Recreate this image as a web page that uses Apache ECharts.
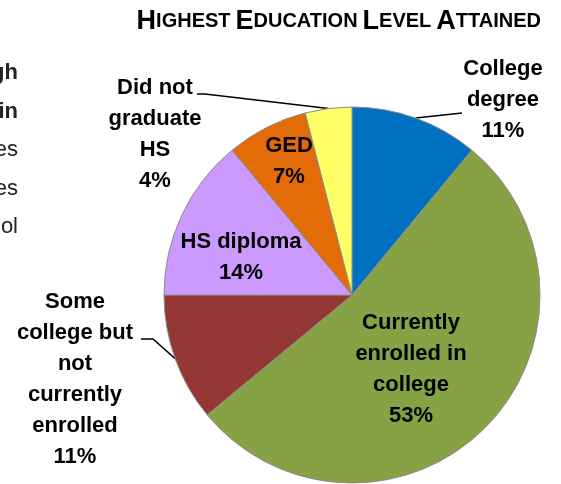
<!DOCTYPE html>
<html>
<head>
<meta charset="utf-8">
<script src="https://cdn.jsdelivr.net/npm/echarts@6/dist/echarts.min.js"></script>
<style>
  html,body{margin:0;padding:0;background:#fff;}
  #main{width:561px;height:484px;}
</style>
</head>
<body>
<div id="main"></div>
<script>
// slice data, clockwise from 12 o'clock
var names = ['College\ndegree', 'Currently\nenrolled in\ncollege', 'Some\ncollege but\nnot\ncurrently\nenrolled', 'HS diploma', 'GED', 'Did not\ngraduate\nHS'];
var values = [11, 53, 11, 14, 7, 4];
var colors = ['#0070C0', '#86A244', '#953735', '#CC99FF', '#E36C09', '#FFFF66'];
var outside = [true, false, true, false, false, true];
// label anchor points (centre of the text block)
var labelPos = [[503, 100], [411, 369], [75, 379], [241, 257], [289, 161], [155, 134]];
// where the leader line meets the label (after the slice edge point)
var leaderEnds = [[[462, 113]], null, [[153, 339], [141, 339]], null, null, [[205, 94], [197, 94]]];
// clipped words of the neighbouring text box on the left
var sideText = ['gh', 'in', 'es', 'es', 'ol'];
var sideBold = [true, true, false, false, false];

var font = '"Liberation Sans Narrow", "Liberation Sans", Arial, sans-serif';
var chart = echarts.init(document.getElementById('main'));

var seriesData = names.map(function (n, i) {
  return {
    name: n,
    value: values[i],
    itemStyle: { color: colors[i] },
    labelLine: { show: outside[i] }
  };
});

var side = sideText.map(function (t, i) {
  return {
    type: 'text',
    right: 543,
    top: 62 + i * 38.5,
    style: {
      text: t,
      fill: '#222',
      font: (sideBold[i] ? 'bold ' : '') + '22px ' + font,
      textAlign: 'right'
    }
  };
});

chart.setOption({
  animation: false,
  title: {
    text: '{b|H}{s|IGHEST} {b|E}{s|DUCATION} {b|L}{s|EVEL} {b|A}{s|TTAINED}',
    right: 15,
    top: 3,
    textStyle: {
      rich: {
        b: { fontSize: 27, fontWeight: 'bold', fontFamily: font, color: '#000' },
        s: { fontSize: 20, fontWeight: 'bold', fontFamily: font, color: '#000' }
      }
    }
  },
  graphic: side,
  series: [{
    type: 'pie',
    center: [352, 295],
    radius: 188,
    startAngle: 90,
    clockwise: true,
    data: seriesData,
    itemStyle: { borderColor: '#8a8a8a', borderWidth: 1 },
    label: {
      show: true,
      formatter: function (p) { return p.name + '\n' + p.value + '%'; },
      fontFamily: font,
      fontWeight: 'bold',
      fontSize: 22,
      lineHeight: 31,
      color: '#000',
      align: 'center',
      overflow: 'none'
    },
    labelLine: {
      show: true,
      lineStyle: { color: '#000', width: 1.5 },
      length: 8,
      length2: 10
    },
    labelLayout: function (params) {
      var i = params.dataIndex;
      var p = labelPos[i];
      var out = { x: p[0], y: p[1], align: 'center', verticalAlign: 'middle' };
      if (leaderEnds[i] && params.labelLinePoints) {
        out.labelLinePoints = [params.labelLinePoints[0]].concat(leaderEnds[i]);
      }
      return out;
    }
  }]
});
</script>
</body>
</html>
